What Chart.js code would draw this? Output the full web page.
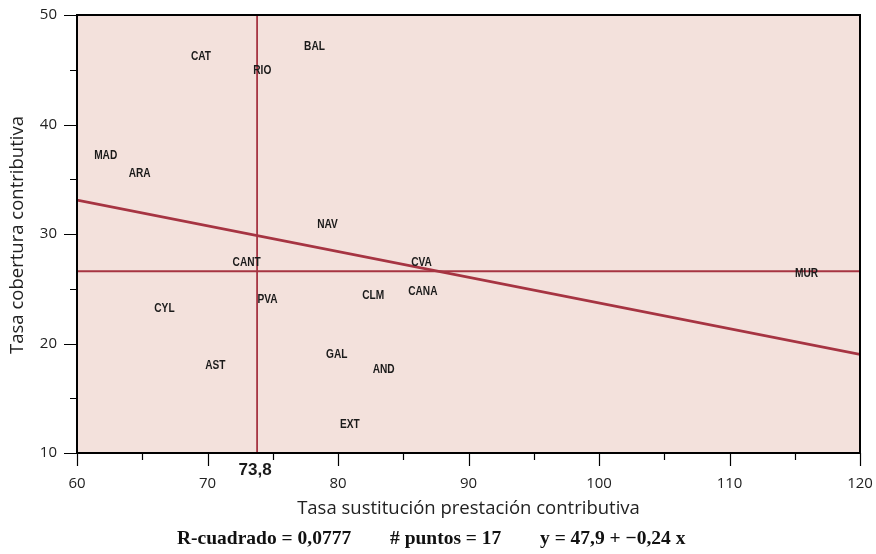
<!DOCTYPE html>
<html>
<head>
<meta charset="utf-8">
<script src="https://cdn.jsdelivr.net/npm/chart.js@4/dist/chart.umd.min.js"></script>
<style>
html,body{margin:0;padding:0;background:#fff;}
#wrap{width:876px;height:554px;position:relative;}
</style>
</head>
<body>
<div id="wrap"><canvas id="c" width="876" height="554"></canvas></div>
<script>
// ---- data ----
const regions = ["CAT","BAL","RIO","MAD","ARA","NAV","CANT","CVA","MUR","CANA","CLM","PVA","CYL","GAL","AST","AND","EXT"];
const tasaSustitucion = [69.5,78.2,74.2,62.2,64.8,79.2,73.0,86.4,115.9,86.5,82.7,74.6,66.7,79.9,70.6,83.5,80.9];
const tasaCobertura  = [46.2,47.1,44.9,37.2,35.5,30.9,27.4,27.4,26.4,24.8,24.4,24.0,23.2,19.0,18.0,17.6,12.6];
const meanX = 73.8;
const meanY = 26.6;
const regX = [60,120];
const regY = [33.1,19.0];
const xTickValues = [60,65,70,75,80,85,90,95,100,105,110,115,120];
const yTickValues = [10,15,20,25,30,35,40,45,50];
const footerParts = ["R-cuadrado = 0,0777", "# puntos = 17", "y = 47,9 + \u22120,24 x"];

const lineColor = '#a63442';
const labelFont = 'bold 13px "Liberation Sans", Arial, sans-serif';

const pts = regions.map((r,i)=>({x:tasaSustitucion[i], y:tasaCobertura[i], label:r}));

const decor = {
  id:'decor',
  beforeDraw(chart){
    const {ctx, chartArea:a} = chart;
    ctx.save();
    ctx.fillStyle = '#f3e1dc';
    ctx.fillRect(a.left, a.top, a.right-a.left, a.bottom-a.top);
    ctx.restore();
  },
  afterDatasetsDraw(chart){
    const {ctx} = chart;
    const xs = chart.scales.x, ys = chart.scales.y;
    ctx.save();
    ctx.font = labelFont;
    ctx.fillStyle = '#1a1a1a';
    ctx.textAlign = 'center';
    ctx.textBaseline = 'middle';
    pts.forEach(p=>{
      const px = xs.getPixelForValue(p.x), py = ys.getPixelForValue(p.y);
      ctx.save();
      ctx.translate(px, py);
      ctx.scale(0.78, 1);
      ctx.fillText(p.label, 0, 0);
      ctx.restore();
    });
    ctx.restore();
  },
  afterDraw(chart){
    const {ctx, chartArea:a} = chart;
    const xs = chart.scales.x, ys = chart.scales.y;
    ctx.save();
    // border
    ctx.strokeStyle = '#000';
    ctx.lineWidth = 2;
    ctx.strokeRect(a.left, a.top, a.right-a.left, a.bottom-a.top);
    // ticks
    ctx.lineWidth = 1.2;
    ctx.beginPath();
    xTickValues.forEach(v=>{
      const px = Math.round(xs.getPixelForValue(v))+0.5;
      const len = (v%10===0)?13:7;
      ctx.moveTo(px, a.bottom); ctx.lineTo(px, a.bottom+len);
    });
    yTickValues.forEach(v=>{
      const py = Math.round(ys.getPixelForValue(v))+0.5;
      const len = (v%10===0)?13:7;
      ctx.moveTo(a.left, py); ctx.lineTo(a.left-len, py);
    });
    ctx.stroke();
    // mean x label
    ctx.fillStyle = '#1a1a1a';
    ctx.font = 'bold 17px "Liberation Sans", Arial, sans-serif';
    ctx.textAlign = 'center';
    ctx.textBaseline = 'middle';
    ctx.fillText(String(meanX).replace('.',','), xs.getPixelForValue(meanX)-2, 470);
    // axis titles
    ctx.font = '18.5px "Open Sans", sans-serif';
    ctx.fillStyle = '#222';
    ctx.fillText('Tasa sustitución prestación contributiva', (a.left+a.right)/2, 509);
    ctx.save();
    ctx.translate(18, (a.top+a.bottom)/2 + 1);
    ctx.rotate(-Math.PI/2);
    ctx.fillText('Tasa cobertura contributiva', 0, 0);
    ctx.restore();
    // footer
    ctx.font = 'bold 19.5px "Liberation Serif", "Times New Roman", serif';
    ctx.fillStyle = '#111';
    ctx.textAlign = 'left';
    const starts = [177, 390, 540];
    footerParts.forEach((t,i)=>ctx.fillText(t, starts[i], 539));
    ctx.restore();
  }
};

new Chart(document.getElementById('c'), {
  type:'scatter',
  data:{
    datasets:[
      {label:'Comunidades', data:pts, pointRadius:0, pointHoverRadius:0, showLine:false},
      {label:'Media X', data:[{x:meanX,y:10},{x:meanX,y:50}], showLine:true, borderColor:lineColor, borderWidth:1.8, pointRadius:0},
      {label:'Media Y', data:[{x:60,y:meanY},{x:120,y:meanY}], showLine:true, borderColor:lineColor, borderWidth:1.8, pointRadius:0},
      {label:'Regresión', data:regX.map((x,i)=>({x:x,y:regY[i]})), showLine:true, borderColor:lineColor, borderWidth:2.6, pointRadius:0}
    ]
  },
  options:{
    responsive:false,
    animation:false,
    devicePixelRatio:1,
    layout:{padding:{left:0,top:15,right:16,bottom:0}},
    plugins:{legend:{display:false}, tooltip:{enabled:false}},
    scales:{
      x:{
        type:'linear', min:60, max:120,
        afterBuildTicks(s){ s.ticks = xTickValues.filter(v=>v%10===0).map(v=>({value:v})); },
        afterFit(s){ s.height = 101; s.paddingLeft = 0; s.paddingRight = 0; },
        grid:{display:true, drawOnChartArea:false, drawTicks:false, color:'rgba(0,0,0,0)'},
        border:{display:false},
        ticks:{padding:22, maxRotation:0, autoSkip:false, color:'#222', font:{family:'"Open Sans", sans-serif', size:15}, callback:v=>String(v)}
      },
      y:{
        type:'linear', min:10, max:50,
        afterBuildTicks(s){ s.ticks = yTickValues.filter(v=>v%10===0).map(v=>({value:v})); },
        afterFit(s){ s.width = 77; s.paddingTop = 0; s.paddingBottom = 0; },
        grid:{display:true, drawOnChartArea:false, drawTicks:false, color:'rgba(0,0,0,0)'},
        border:{display:false},
        ticks:{padding:20, autoSkip:false, color:'#222', font:{family:'"Open Sans", sans-serif', size:15}, callback:v=>String(v)}
      }
    }
  },
  plugins:[decor]
});
</script>
</body>
</html>
